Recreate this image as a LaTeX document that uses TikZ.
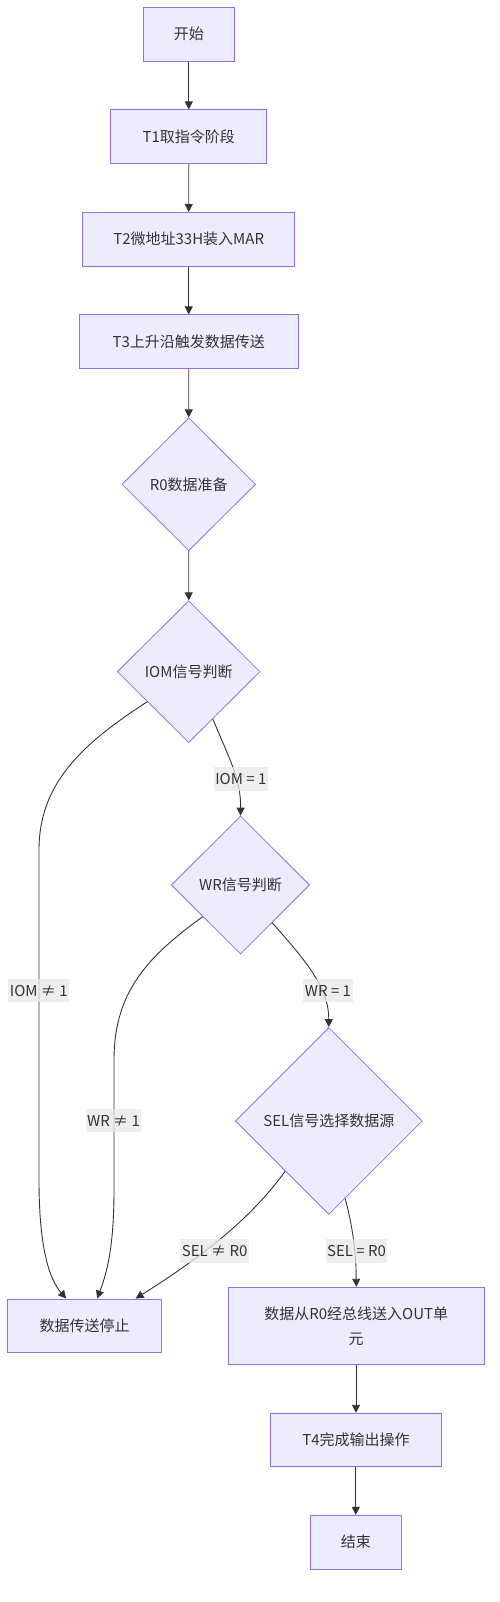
\documentclass[tikz,border=0pt]{standalone}
\usepackage{fontspec}
\newfontfamily\cjk{Noto Sans CJK SC}
\usetikzlibrary{shapes.geometric,arrows.meta}
\definecolor{nodefill}{HTML}{ECECFF}
\definecolor{nodeborder}{HTML}{9370DB}
\definecolor{edgecol}{HTML}{333333}
\definecolor{labelbg}{HTML}{E8E8E8}
\begin{document}
\begin{tikzpicture}[x=1pt,y=-1pt,
  every node/.style={font=\cjk\fontsize{15}{25}\selectfont, text=edgecol},
  box/.style={draw=nodeborder, fill=nodefill, line width=1pt, inner sep=0pt, align=center},
  decision/.style={diamond, draw=nodeborder, fill=nodefill, line width=0.8pt, inner sep=0pt, aspect=1},
  flow/.style={draw=edgecol, line width=0.9pt, -{Triangle[length=8pt,width=8pt]}},
  elabel/.style={fill=labelbg, fill opacity=0.75, text opacity=1, inner xsep=1.5pt, inner ysep=0pt, minimum height=23.4pt}
]
\useasboundingbox (0,0) rectangle (500,1602);

% nodes
\node[box, minimum width=91pt, minimum height=53.6pt] (start) at (188.8,34.3) {开始};
\node[box, minimum width=155.7pt, minimum height=53.6pt] (t1) at (188.8,136.8) {T1取指令阶段};
\node[box, minimum width=212pt, minimum height=53.6pt] (t2) at (188.7,239.3) {T2微地址33H装入MAR};
\node[box, minimum width=218.7pt, minimum height=53.3pt] (t3) at (188.7,341.6) {T3上升沿触发数据传送};
\node[decision, minimum width=133.7pt, minimum height=133pt] (r0) at (188.8,484.3) {R0数据准备};
\node[decision, minimum width=142.7pt, minimum height=142pt] (iom) at (188.7,671.7) {IOM信号判断};
\node[decision, minimum width=138.4pt, minimum height=138pt] (wr) at (240.5,885) {WR信号判断};
\node[decision, minimum width=187pt, minimum height=187pt] (sel) at (328.8,1121) {SEL信号选择数据源};
\node[box, minimum width=154.4pt, minimum height=53.3pt] (stop) at (84.5,1325.7) {数据传送停止};
\node[box, minimum width=256.3pt, minimum height=77pt] (out) at (356.2,1325.8) {数据从R0经总线送入OUT单\\元};
\node[box, minimum width=171.4pt, minimum height=53.4pt] (t4) at (356,1440) {T4完成输出操作};
\node[box, minimum width=91pt, minimum height=53.7pt] (end) at (355.8,1542.2) {结束};

% straight edges
\draw[flow] (start) -- (t1);
\draw[flow] (t1) -- (t2);
\draw[flow] (t2) -- (t3);
\draw[flow] (t3) -- (r0);
\draw[flow] (r0) -- (iom);
\draw[flow] (out.south -| t4.north) -- (t4.north);
\draw[flow] (t4.south -| end.north) -- (end.north);

% curved edges
\draw[flow] (iom.-63.6) .. controls (230,760) and (241,780) .. (wr.north);
\draw[flow] (wr.-50) .. controls (310,965) and (328.8,990) .. (sel.north);
\draw[flow] (sel.-78) .. controls (352,1225) and (356.2,1250) .. (out.north);
\draw[flow] (iom.216) .. controls (80,745) and (39,785) .. (39,850) -- (39,1180) .. controls (39,1250) and (50,1280) .. (stop.124);
\draw[flow] (wr.220.6) .. controls (150,955) and (114,990) .. (114,1060) -- (114,1190) .. controls (114,1250) and (106,1275) .. (stop.65);
\draw[flow] (sel.229.5) .. controls (250,1220) and (200,1258) .. (stop.28.7);

% edge labels
\node[elabel] (l1) at (240.8,779) {IOM = 1};
\node[elabel] (l2) at (38.8,990.7) {IOM ≠ 1};
\node[elabel] (l3) at (328,990.7) {WR = 1};
\node[elabel] (l4) at (113.5,1120.7) {WR ≠ 1};
\node[elabel] (l5) at (214.7,1251) {SEL ≠ R0};
\node[elabel] (l6) at (356.5,1251) {SEL = R0};
\end{tikzpicture}
\end{document}
